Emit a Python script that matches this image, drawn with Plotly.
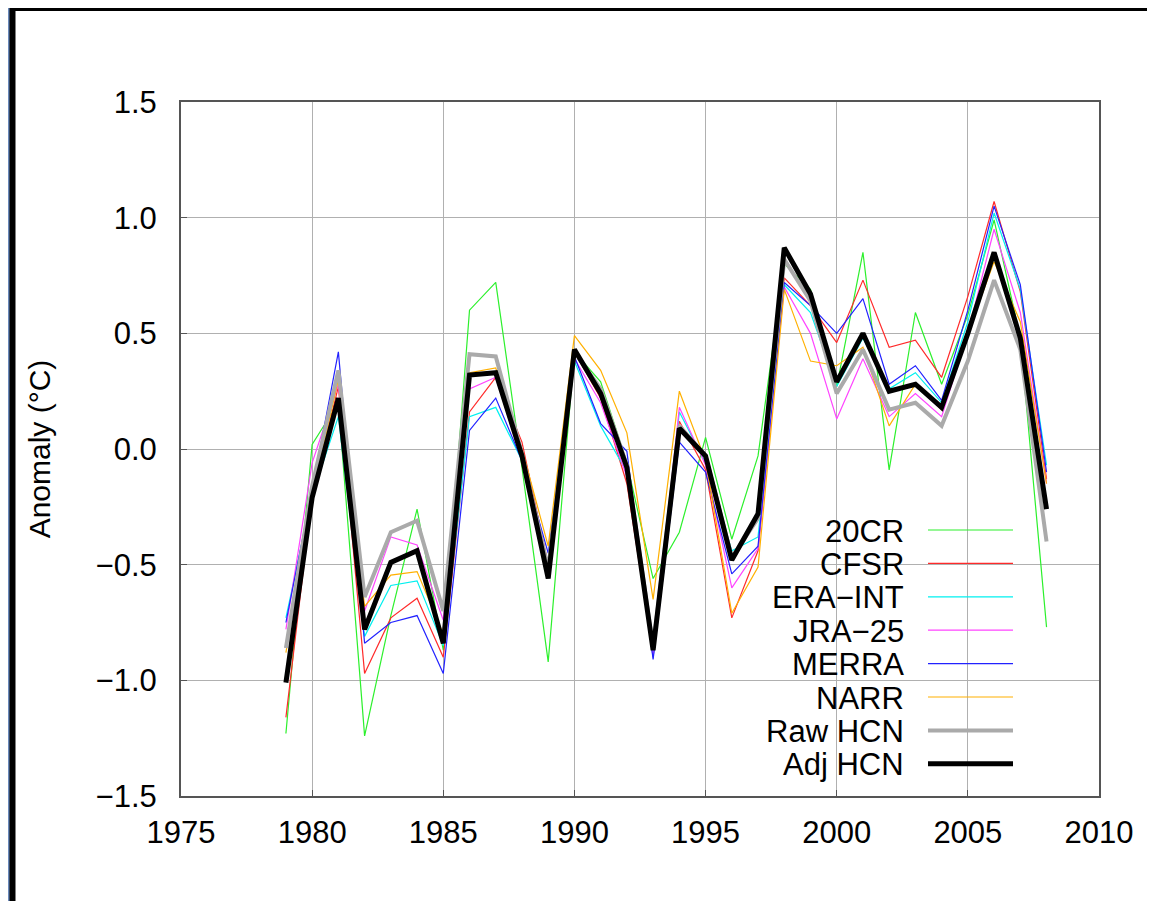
import plotly.graph_objects as go

years = list(range(1979, 2009))

cr20 = [-1.23, 0.02, 0.20, -1.24, -0.72, -0.26, -0.87, 0.60, 0.72, -0.08,
        -0.92, 0.42, 0.29, -0.06, -0.56, -0.36, 0.05, -0.39, -0.03, 0.80,
        0.69, 0.27, 0.85, -0.09, 0.59, 0.28, 0.58, 0.99, 0.48, -0.77]
cfsr = [-1.16, -0.20, 0.27, -0.97, -0.73, -0.645, -0.90, 0.16, 0.31, 0.03,
        -0.50, 0.42, 0.22, -0.15, -0.88, 0.12, -0.09, -0.73, -0.44, 0.74,
        0.62, 0.46, 0.73, 0.44, 0.47, 0.31, 0.66, 1.07, 0.68, -0.13]
era_int = [-0.73, -0.20, 0.14, -0.81, -0.59, -0.57, -0.85, 0.14, 0.18, -0.05,
           -0.50, 0.38, 0.10, -0.10, -0.90, 0.16, -0.06, -0.44, -0.38, 0.71,
           0.59, 0.27, 0.48, 0.26, 0.33, 0.20, 0.55, 1.02, 0.69, -0.07]
jra25 = [-0.78, -0.06, 0.28, -0.70, -0.38, -0.415, -0.74, 0.26, 0.31, -0.05,
         -0.50, 0.39, 0.20, -0.12, -0.90, 0.18, -0.07, -0.60, -0.43, 0.70,
         0.50, 0.13, 0.39, 0.14, 0.24, 0.14, 0.50, 0.95, 0.59, -0.15]
merra = [-0.75, -0.18, 0.42, -0.84, -0.75, -0.72, -0.97, 0.08, 0.22, -0.05,
         -0.45, 0.40, 0.11, -0.01, -0.91, 0.03, -0.10, -0.54, -0.42, 0.72,
         0.62, 0.50, 0.65, 0.28, 0.36, 0.21, 0.60, 1.05, 0.71, -0.10]
narr = [-0.88, -0.20, 0.30, -0.68, -0.545, -0.53, -0.80, 0.33, 0.35, 0.00,
        -0.42, 0.49, 0.34, 0.07, -0.65, 0.25, -0.05, -0.71, -0.51, 0.69,
        0.38, 0.36, 0.44, 0.10, 0.28, 0.17, 0.50, 0.81, 0.55, -0.15]
raw_hcn = [-0.86, -0.16, 0.34, -0.64, -0.36, -0.31, -0.70, 0.41, 0.40, -0.02,
           -0.52, 0.42, 0.26, -0.07, -0.86, 0.10, -0.03, -0.47, -0.30, 0.82,
           0.64, 0.24, 0.43, 0.17, 0.20, 0.10, 0.38, 0.73, 0.43, -0.40]
adj_hcn = [-1.01, -0.21, 0.22, -0.78, -0.49, -0.44, -0.84, 0.32, 0.33, -0.03,
           -0.56, 0.43, 0.24, -0.08, -0.87, 0.09, -0.03, -0.48, -0.28, 0.87,
           0.67, 0.29, 0.50, 0.25, 0.28, 0.18, 0.50, 0.85, 0.48, -0.26]

series_names = ["20CR", "CFSR", "ERA\u2212INT", "JRA\u221225", "MERRA", "NARR", "Raw HCN", "Adj HCN"]
series_values = [cr20, cfsr, era_int, jra25, merra, narr, raw_hcn, adj_hcn]
series_colors = ["#2cf02c", "#ff2a2a", "#00f0f0", "#ff44ff", "#2222ff", "#ffb000", "#aaaaaa", "#000000"]
series_widths = [1.2, 1.2, 1.2, 1.2, 1.2, 1.2, 4, 5]

x_ticks = [1975, 1980, 1985, 1990, 1995, 2000, 2005, 2010]
y_ticks = [-1.5, -1.0, -0.5, 0.0, 0.5, 1.0, 1.5]

# page body has an 8px margin; figure coords = window coords - OFF
OFF = 8
W, H = 1139, 893
L, T = 181 - OFF, 102 - OFF
PW, PH = 918, 694
R, B = W - L - PW, H - T - PH
FONT = "Liberation Sans, Arial, sans-serif"


def px(x):
    # window pixel x -> paper x
    return (x - OFF - L) / PW


def py(y):
    # window pixel y -> paper y
    return (T + PH - (y - OFF)) / PH


fig = go.Figure()
for name, vals, col, wd in zip(series_names, series_values, series_colors, series_widths):
    fig.add_trace(go.Scatter(x=years, y=vals, mode="lines", name=name,
                             line=dict(color=col, width=wd), showlegend=False))

shapes = []
# black frame (top and left)
shapes.append(dict(type="rect", xref="paper", yref="paper", layer="below",
                   x0=px(8), x1=px(1160), y0=py(920), y1=py(8),
                   fillcolor="#000000", line=dict(width=0)))
# blue strip at far left
shapes.append(dict(type="rect", xref="paper", yref="paper", layer="below",
                   x0=px(8), x1=px(9.5), y0=py(920), y1=py(8),
                   fillcolor="#6a8abb", line=dict(width=0)))
# white page
shapes.append(dict(type="rect", xref="paper", yref="paper", layer="below",
                   x0=px(15.5), x1=px(1160), y0=py(920), y1=py(11),
                   fillcolor="#ffffff", line=dict(width=0)))
# legend background (hides gridlines)
shapes.append(dict(type="rect", xref="paper", yref="paper", layer="between",
                   x0=px(767), x1=px(1033), y0=py(782), y1=py(512),
                   fillcolor="#ffffff", line=dict(width=0)))

annotations = []
leg_y0, leg_dy = 530, 33.4
for i, (name, col, wd) in enumerate(zip(series_names, series_colors, series_widths)):
    yy = leg_y0 + i * leg_dy
    shapes.append(dict(type="line", xref="paper", yref="paper", layer="above",
                       x0=px(928), x1=px(1013), y0=py(yy), y1=py(yy),
                       line=dict(color=col, width=wd)))
    annotations.append(dict(xref="paper", yref="paper", x=px(906), y=py(yy + 1),
                            text=name, showarrow=False, xanchor="right", yanchor="middle",
                            font=dict(family=FONT, size=31, color="#000000")))

axis_common = dict(
    showgrid=True, gridcolor="#b0b0b0", gridwidth=1,
    showline=True, linecolor="#555555", linewidth=2, mirror=True,
    ticks="inside", ticklen=6, tickcolor="#555555",
    zeroline=False,
    tickfont=dict(family=FONT, size=31, color="#000000"),
)

fig.update_layout(
    width=W, height=H,
    margin=dict(l=L, r=R, t=T, b=B),
    paper_bgcolor="#ffffff",
    plot_bgcolor="#ffffff",
    showlegend=False,
    xaxis=dict(range=[1975, 2010], tickmode="array", tickvals=x_ticks,
               ticktext=[str(v) for v in x_ticks], ticklabelstandoff=8, **axis_common),
    yaxis=dict(range=[-1.5, 1.5], tickmode="array", tickvals=y_ticks,
               ticktext=[("\u2212" if v < 0 else "") + f"{abs(v):.1f}" for v in y_ticks],
               ticklabelstandoff=16,
               title=dict(text="Anomaly (\u00b0C)", standoff=36,
                          font=dict(family=FONT, size=30, color="#000000")),
               **axis_common),
    shapes=shapes,
    annotations=annotations,
)

fig.write_html("out.html")
